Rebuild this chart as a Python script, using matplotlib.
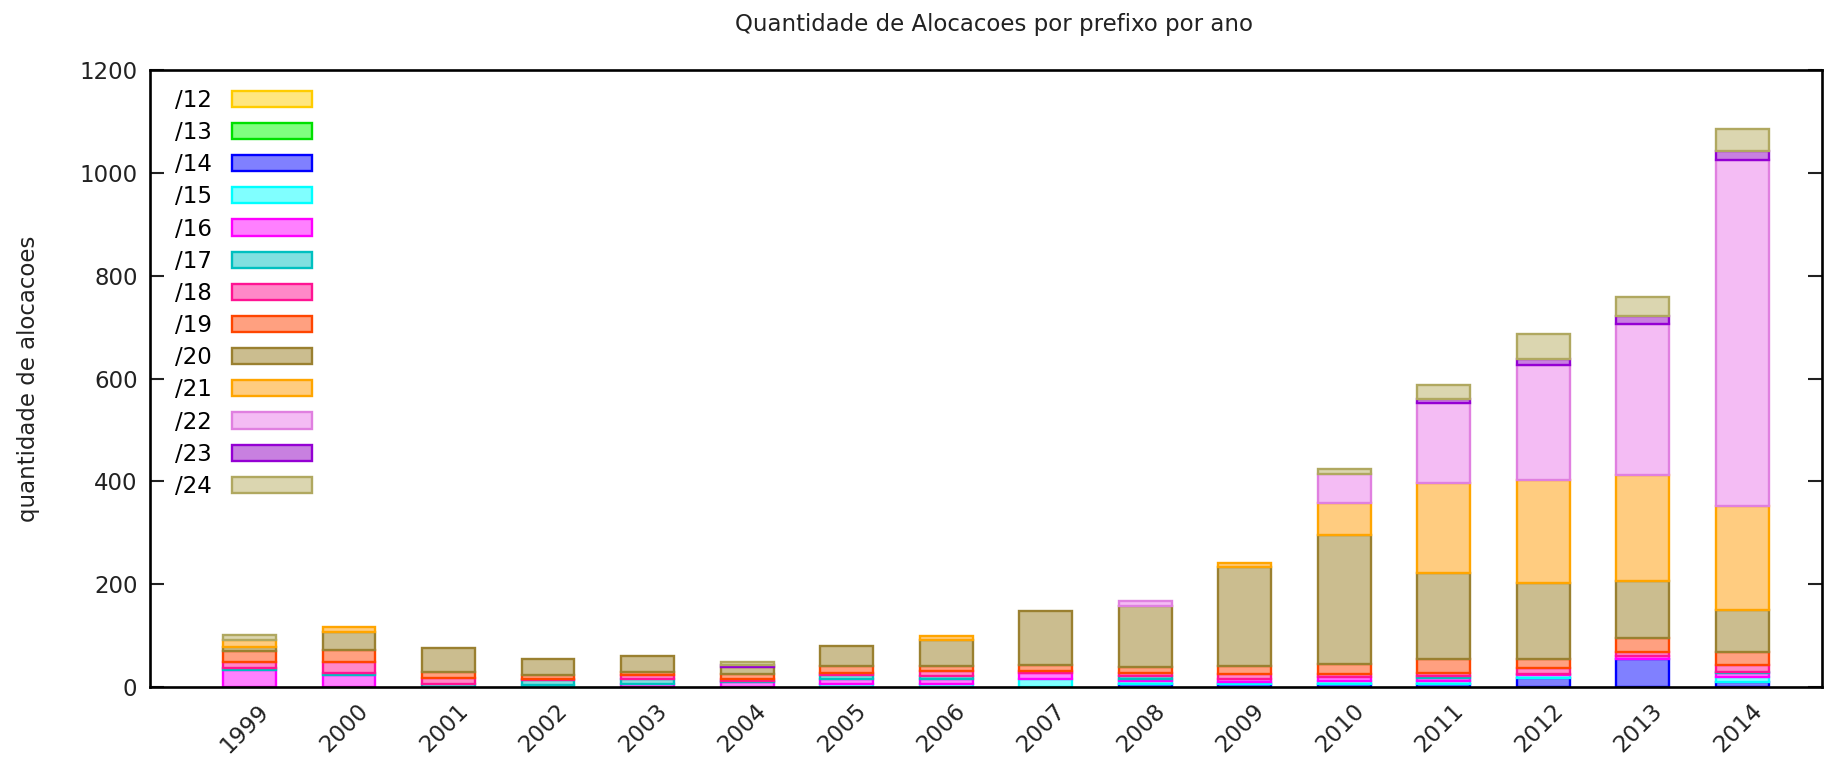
import numpy as np
import matplotlib
matplotlib.use("Agg")
import matplotlib.pyplot as plt
import matplotlib.transforms as mtransforms

years = ['1999', '2000', '2001', '2002', '2003', '2004', '2005', '2006',
         '2007', '2008', '2009', '2010', '2011', '2012', '2013', '2014']

# alocacoes por prefixo
p12 = [0, 0, 0, 0, 0, 0, 0, 0, 0, 0, 0, 0, 0, 0, 0, 0]
p13 = [0, 0, 0, 0, 0, 0, 0, 0, 0, 0, 0, 0, 0, 0, 0, 0]
p14 = [0, 0, 0, 0, 0, 0, 0, 0, 0, 6, 6, 6, 6, 18, 55, 10]
p15 = [0, 0, 0, 3, 0, 0, 6, 6, 16, 5, 4, 5, 5, 5, 0, 10]
p16 = [34, 24, 0, 0, 6, 9, 10, 10, 11, 5, 6, 8, 6, 3, 6, 8]
p17 = [3, 3, 6, 10, 10, 3, 8, 5, 0, 5, 0, 0, 5, 0, 0, 2]
p18 = [12, 21, 11, 3, 8, 3, 4, 10, 5, 7, 10, 6, 6, 10, 8, 12]
p19 = [21, 23, 12, 7, 6, 10, 12, 9, 11, 11, 15, 20, 26, 19, 27, 26]
p20 = [8, 36, 46, 32, 30, 14, 40, 52, 104, 119, 193, 250, 167, 147, 110, 82]
p21 = [13, 9, 0, 0, 0, 0, 0, 8, 0, 0, 8, 63, 175, 200, 206, 202]
p22 = [0, 0, 0, 0, 0, 0, 0, 0, 0, 10, 0, 57, 157, 225, 294, 673]
p23 = [0, 0, 0, 0, 0, 4, 0, 0, 0, 0, 0, 0, 8, 10, 15, 17]
p24 = [10, 0, 0, 0, 0, 5, 0, 0, 0, 0, 0, 9, 26, 49, 37, 43]

labels = ['/12', '/13', '/14', '/15', '/16', '/17', '/18',
          '/19', '/20', '/21', '/22', '/23', '/24']
series = [p12, p13, p14, p15, p16, p17, p18, p19, p20, p21, p22, p23, p24]
edges = ['#ffcc00', '#00e000', '#0000ff', '#00ffff', '#ff00ff', '#00c0c0',
         '#ff1493', '#ff4500', '#9a8030', '#ffa500', '#e080e0', '#9400d3', '#b0a860']
fills = ['#ffe680', '#80ff80', '#8080ff', '#80ffff', '#ff80ff', '#80e0e0',
         '#ff88c8', '#ffa080', '#cbbd8f', '#ffcc80', '#f4bcf4', '#c880e0', '#dbd6b0']

fs = 16.5
plt.rcParams['font.family'] = 'DejaVu Sans'
fig = plt.figure(figsize=(18.41, 7.58), dpi=100)
ax = fig.add_axes([150/1841, 1 - 687/758, 1672/1841, 617/758])

x = np.arange(len(years))
bottom = np.zeros(len(years))
for lab, vals, ec, fc in zip(labels, series, edges, fills):
    vals = np.array(vals, dtype=float)
    lw = np.where(vals > 0, 1.7, 0.0)
    ax.bar(x, vals, 0.53, bottom=bottom, color=fc, edgecolor=ec,
           linewidth=lw, label=lab, zorder=2)
    bottom += vals

ax.set_xlim(-1.0, 15.8)
ax.set_ylim(0, 1200)
ax.set_yticks(range(0, 1201, 200))
ax.set_xticks(x)
ax.set_xticklabels(years, rotation=45, ha='right', va='top',
                   rotation_mode='anchor')
ax.tick_params(axis='both', direction='in', length=10, width=1.5,
               labelsize=fs, colors='#222222', zorder=5)
ax.tick_params(axis='y', right=True, pad=9)
ax.tick_params(axis='x', pad=9)
shift = mtransforms.ScaledTranslation(0.08, 0, fig.dpi_scale_trans)
for t in ax.get_xticklabels():
    t.set_transform(t.get_transform() + shift)
for s in ax.spines.values():
    s.set_linewidth(1.9)
    s.set_zorder(6)

ax.set_ylabel('quantidade de alocacoes', fontsize=fs, color='#222222')
ax.yaxis.set_label_coords(-0.066, 0.5)
ax.set_title('Quantidade de Alocacoes por prefixo por ano', fontsize=fs,
             color='#222222', pad=28, x=0.505)

leg = ax.legend(loc='upper left', bbox_to_anchor=(0.008, 0.988), frameon=False,
                markerfirst=False, fontsize=fs, handlelength=3.5,
                handleheight=0.7, labelspacing=0.40, handletextpad=0.87,
                borderpad=0)
for h in leg.legend_handles:
    h.set_linewidth(1.7)

fig.savefig('out.png', dpi=100)
